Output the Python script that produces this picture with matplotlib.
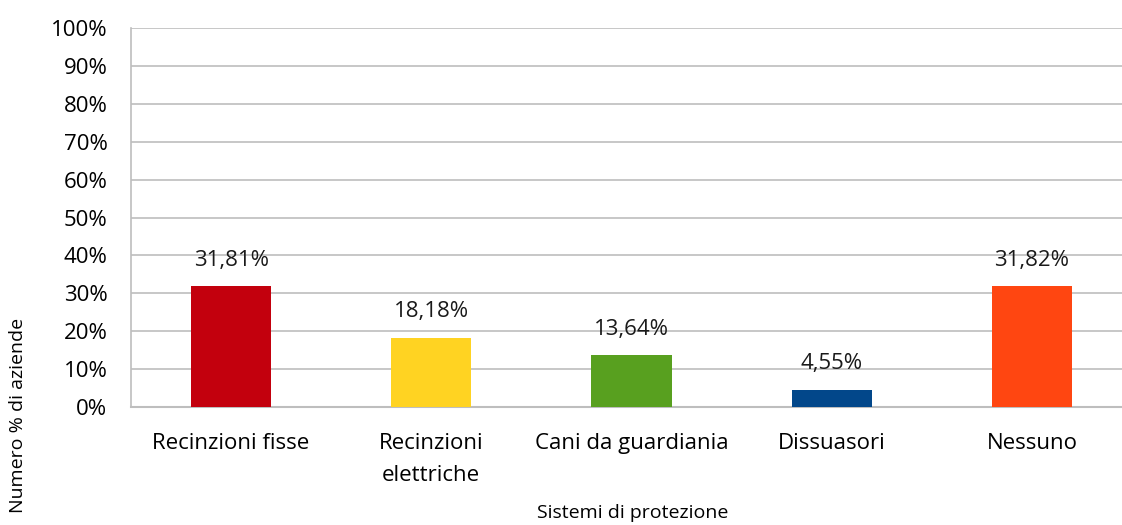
import numpy as np
import matplotlib
matplotlib.use("Agg")
import matplotlib.pyplot as plt
from matplotlib.ticker import FuncFormatter

# Data
categories = ["Recinzioni fisse", "Recinzioni\nelettriche", "Cani da guardiania", "Dissuasori", "Nessuno"]
values = [31.81, 18.18, 13.64, 4.55, 31.82]
value_labels = ["31,81%", "18,18%", "13,64%", "4,55%", "31,82%"]
colors = ["#C3000D", "#FFD322", "#58A01F", "#02478A", "#FF4611"]

plt.rcParams['font.family'] = ['Open Sans', 'DejaVu Sans']

fig = plt.figure(figsize=(11.22, 5.25), dpi=100)
ax = fig.add_axes([131/1122, 1 - 407/525, 1001/1122, (407 - 28)/525])

x = np.arange(len(categories))
ax.bar(x, values, width=0.4, color=colors, zorder=3)

for xi, v, lab in zip(x, values, value_labels):
    ax.text(xi, v + 6.9, lab, ha='center', va='center', fontsize=16, color='#1a1a1a')

ax.set_xlim(-0.5, len(categories) - 0.5)
ax.set_ylim(0, 100)
ax.set_yticks(np.arange(0, 101, 10))
ax.yaxis.set_major_formatter(FuncFormatter(lambda v, p: "%d%%" % v))
ax.set_xticks(x)
ax.set_xticklabels(categories, fontsize=16, linespacing=1.65)
ax.tick_params(axis='y', labelsize=16, length=0, pad=17)
ax.tick_params(axis='x', length=0, pad=19)

ax.grid(axis='y', color='#BEBEBE', linewidth=1.2, zorder=0)
for s in ['top', 'right']:
    ax.spines[s].set_visible(False)
ax.spines['left'].set_color('#BEBEBE')
ax.spines['bottom'].set_color('#BEBEBE')
ax.spines['left'].set_linewidth(1.2)
ax.spines['bottom'].set_linewidth(1.5)

fig.text(18/1122, 1 - 415/525, "Numero % di aziende", rotation=90, ha='center', va='center', fontsize=14)
fig.text(633/1122, 1 - 513/525, "Sistemi di protezione", ha='center', va='center', fontsize=14)

fig.savefig("out.png", dpi=100)
